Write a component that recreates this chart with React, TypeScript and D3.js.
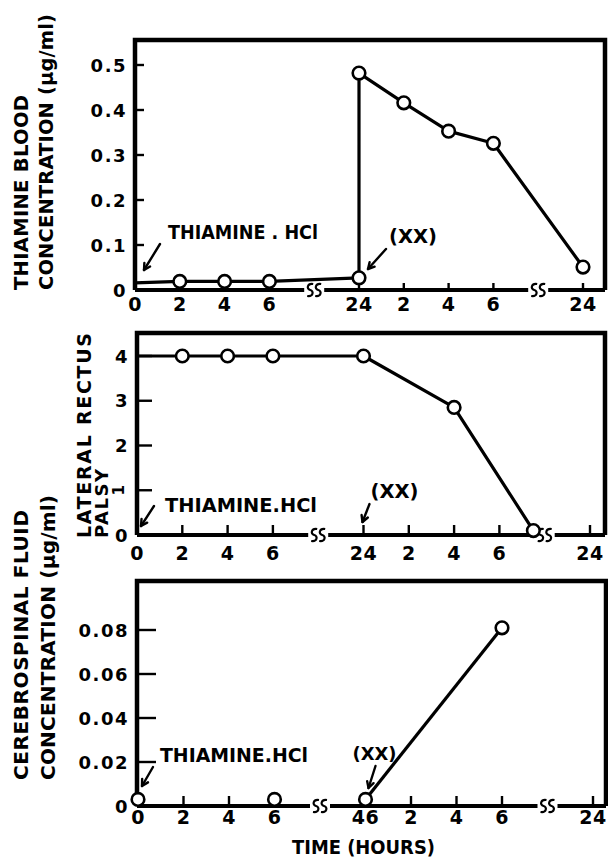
import React from 'react';
import * as d3 from 'd3';

// ---------- data ----------
const tickHours = [0, 2, 4, 6, 24, 26, 28, 30, 48];
const tickLabelsTop = ['0', '2', '4', '6', '24', '2', '4', '6', '24'];
const tickLabelsMid = ['0', '2', '4', '6', '24', '2', '4', '6', '24'];
const tickLabelsBot = ['0', '2', '4', '6', '46', '2', '4', '6', '24'];
const breakHours = [8, 32];

const bloodHours = [0, 2, 4, 6, 24, 24, 26, 28, 30, 48];
const bloodValues = [0.016, 0.019, 0.019, 0.019, 0.027, 0.482, 0.416, 0.353, 0.326, 0.051];
const bloodMarkers = [false, true, true, true, true, true, true, true, true, true];

const palsyHours = [0, 2, 4, 6, 24, 28, 31.5];
const palsyValues = [4, 4, 4, 4, 4, 2.85, 0.1];
const palsyMarkers = [false, true, true, true, true, true, true];

const csfDay1Hours = [0, 6];
const csfDay1Values = [0.003, 0.003];
const csfDay2Hours = [24, 30];
const csfDay2Values = [0.003, 0.081];

const bloodYTicks = [0, 0.1, 0.2, 0.3, 0.4, 0.5];
const bloodYLabels = ['0', '0.1', '0.2', '0.3', '0.4', '0.5'];
const palsyYTicks = [0, 1, 2, 3, 4];
const palsyYLabels = ['0', '1', '2', '3', '4'];
const csfYTicks = [0, 0.02, 0.04, 0.06, 0.08];
const csfYLabels = ['0', '0.02', '0.04', '0.06', '0.08'];

const FONT = "'DejaVu Sans', sans-serif";

function makeX(x0: number, w: number) {
  return d3
    .scaleLinear()
    .domain([0, 8, 24, 32, 48])
    .range([x0, x0 + 4 * w, x0 + 5 * w, x0 + 9 * w, x0 + 10 * w]);
}

function Arrow({ x1, y1, x2, y2 }: { x1: number; y1: number; x2: number; y2: number }) {
  const a = Math.atan2(y2 - y1, x2 - x1);
  const h = 7;
  const s = 0.5;
  const p1 = [x2 - h * Math.cos(a - s), y2 - h * Math.sin(a - s)];
  const p2 = [x2 - h * Math.cos(a + s), y2 - h * Math.sin(a + s)];
  return (
    <g stroke="#000" strokeWidth={2.4} fill="none" strokeLinecap="round" strokeLinejoin="round">
      <line x1={x1} y1={y1} x2={x2} y2={y2} />
      <polyline points={`${p1[0]},${p1[1]} ${x2},${y2} ${p2[0]},${p2[1]}`} />
    </g>
  );
}

function BreakMark({ x, y }: { x: number; y: number }) {
  const s = (cx: number) =>
    `M${cx + 3},${y - 6} C${cx - 3},${y - 7} ${cx - 4},${y - 1} ${cx},${y} C${cx + 4},${y + 1} ${cx + 3},${y + 7} ${cx - 3},${y + 6}`;
  return (
    <g stroke="#000" strokeWidth={2.2} fill="none">
      <path d={s(x - 4)} />
      <path d={s(x + 4)} />
    </g>
  );
}

type PanelProps = {
  left: number;
  right: number;
  top: number;
  axisY: number;
  x: d3.ScaleLinear<number, number>;
  y: d3.ScaleLinear<number, number>;
  yTicks: number[];
  yLabels: string[];
  xLabels: string[];
  yTickLen: number;
  xTickLen: number;
  labelDy: number;
  hideYLabel?: number;
};

function Frame(p: PanelProps) {
  const bx = breakHours.map((h) => p.x(h));
  const gap = 10;
  const segs = [
    [p.left, bx[0] - gap],
    [bx[0] + gap, bx[1] - gap],
    [bx[1] + gap, p.right],
  ];
  return (
    <g>
      <path
        d={`M${p.left},${p.axisY} L${p.left},${p.top} L${p.right},${p.top} L${p.right},${p.axisY}`}
        fill="none"
        stroke="#000"
        strokeWidth={4.5}
        strokeLinejoin="miter"
      />
      {segs.map((s, i) => (
        <line key={i} x1={s[0]} x2={s[1]} y1={p.axisY} y2={p.axisY} stroke="#000" strokeWidth={4.2} />
      ))}
      {bx.map((b, i) => (
        <BreakMark key={i} x={b} y={p.axisY} />
      ))}
      {p.yTicks.map((t, i) => (
        <g key={i}>
          {t !== 0 && (
            <line x1={p.left} x2={p.left + p.yTickLen} y1={p.y(t)} y2={p.y(t)} stroke="#000" strokeWidth={2.4} />
          )}
          {p.hideYLabel !== i && (
            <text
              x={p.left - 8}
              y={p.y(t) + 6.5}
              textAnchor="end"
              fontFamily={FONT}
              fontWeight="bold"
              fontSize={18}
              letterSpacing={1.5}
            >
              {p.yLabels[i]}
            </text>
          )}
        </g>
      ))}
      {tickHours.map((h, i) => (
        <g key={i}>
          {h !== 0 && (
            <line
              x1={p.x(h)}
              x2={p.x(h)}
              y1={p.axisY}
              y2={p.axisY - p.xTickLen}
              stroke="#000"
              strokeWidth={2.4}
            />
          )}
          <text
            x={p.x(h)}
            y={p.axisY + p.labelDy}
            textAnchor="middle"
            fontFamily={FONT}
            fontWeight="bold"
            fontSize={19}
            letterSpacing={0.5}
          >
            {p.xLabels[i]}
          </text>
        </g>
      ))}
    </g>
  );
}

function Markers({ pts }: { pts: [number, number][] }) {
  return (
    <g>
      {pts.map((d, i) => (
        <circle key={i} cx={d[0]} cy={d[1]} r={6.3} fill="#fff" stroke="#000" strokeWidth={2.6} />
      ))}
    </g>
  );
}

function VTitle({ cx, startY, len, text, fs = 20 }: { cx: number; startY: number; len: number; text: string; fs?: number }) {
  const cap = fs * 0.73;
  return (
    <text
      transform={`translate(${cx + cap / 2},${startY}) rotate(-90)`}
      fontFamily={FONT}
      fontWeight="bold"
      fontSize={fs}
      textLength={len}
      lengthAdjust="spacing"
    >
      {text}
    </text>
  );
}

function Label({ x, y, text, len, fs = 20 }: { x: number; y: number; text: string; len?: number; fs?: number }) {
  return (
    <text
      x={x}
      y={y}
      fontFamily={FONT}
      fontWeight="bold"
      fontSize={fs}
      textLength={len}
      lengthAdjust={len ? 'spacingAndGlyphs' : undefined}
    >
      {text}
    </text>
  );
}

export default function App() {
  // ---- top panel ----
  const xT = makeX(135, 44.8);
  const yT = d3.scaleLinear().domain([0, 0.5]).range([290, 65]);
  const bloodPts: [number, number][] = bloodHours.map((h, i) => [xT(h), yT(bloodValues[i])]);
  const lineGen = d3.line<[number, number]>();

  // ---- middle panel ----
  const xM = makeX(137, 45.3);
  const yM = d3.scaleLinear().domain([0, 4]).range([535, 356]);
  const palsyPts: [number, number][] = palsyHours.map((h, i) => [xM(h), yM(palsyValues[i])]);

  // ---- bottom panel ----
  const xB = makeX(138, 45.5);
  const yB = d3.scaleLinear().domain([0, 0.08]).range([806, 630]);
  const csf1: [number, number][] = csfDay1Hours.map((h, i) => [xB(h), yB(csfDay1Values[i])]);
  const csf2: [number, number][] = csfDay2Hours.map((h, i) => [xB(h), yB(csfDay2Values[i])]);

  return (
    <svg
      width={608}
      height={858}
      viewBox="0 0 608 858"
      style={{ position: 'absolute', left: 0, top: 0, background: '#fff' }}
    >
      <rect x={0} y={0} width={608} height={858} fill="#fff" />

      {/* ===== TOP ===== */}
      <VTitle cx={21} startY={290} len={195} text="THIAMINE BLOOD" fs={19.5} />
      <VTitle cx={46} startY={290} len={276} text="CONCENTRATION (μg/ml)" fs={19.5} />
      <Frame
        left={135}
        right={605}
        top={40}
        axisY={290}
        x={xT}
        y={yT}
        yTicks={bloodYTicks}
        yLabels={bloodYLabels}
        xLabels={tickLabelsTop}
        yTickLen={9}
        xTickLen={7}
        labelDy={21}
      />
      <path d={lineGen(bloodPts) || ''} fill="none" stroke="#000" strokeWidth={3.2} strokeLinejoin="round" />
      <Markers pts={bloodPts.filter((_, i) => bloodMarkers[i])} />
      <Label x={xT(0) + 33} y={yT(0) - 51} text="THIAMINE . HCl" len={150} />
      <Arrow x1={xT(0) + 25} y1={yT(0) - 46} x2={xT(0) + 9} y2={yT(0) - 20} />
      <Label x={xT(24) + 30} y={yT(0) - 47} text="(XX)" len={48} fs={19} />
      <Arrow x1={xT(24) + 27} y1={yT(0) - 41} x2={xT(24) + 9} y2={yT(0) - 21} />

      {/* ===== MIDDLE ===== */}
      <VTitle cx={84} startY={538} len={205} text="LATERAL RECTUS" fs={19} />
      <VTitle cx={101} startY={538} len={69} text="PALSY" fs={18} />
      <Frame
        left={137}
        right={605}
        top={333}
        axisY={535}
        x={xM}
        y={yM}
        yTicks={palsyYTicks}
        yLabels={palsyYLabels}
        xLabels={tickLabelsMid}
        yTickLen={15}
        xTickLen={10}
        labelDy={25}
        hideYLabel={1}
      />
      <text
        transform={`translate(${124},${yM(1)}) rotate(-90)`}
        textAnchor="middle"
        fontFamily={FONT}
        fontWeight="bold"
        fontSize={15}
      >
        1
      </text>
      <path d={lineGen(palsyPts) || ''} fill="none" stroke="#000" strokeWidth={3.2} strokeLinejoin="round" />
      <Markers pts={palsyPts.filter((_, i) => palsyMarkers[i])} />
      <Label x={xM(0) + 28} y={yM(0) - 23} text="THIAMINE.HCl" len={152} />
      <Arrow x1={xM(0) + 17} y1={yM(0) - 29} x2={xM(0) + 4} y2={yM(0) - 9} />
      <Label x={xM(24) + 7} y={yM(0) - 37} text="(XX)" len={48} fs={19} />
      <Arrow x1={xM(24) + 6} y1={yM(0) - 31} x2={xM(24) - 1} y2={yM(0) - 13} />

      {/* ===== BOTTOM ===== */}
      <VTitle cx={21} startY={780} len={270} text="CEREBROSPINAL FLUID" fs={20} />
      <VTitle cx={48} startY={780} len={285} text="CONCENTRATION (μg/ml)" fs={20} />
      <Frame
        left={137}
        right={606}
        top={581}
        axisY={806}
        x={xB}
        y={yB}
        yTicks={csfYTicks}
        yLabels={csfYLabels}
        xLabels={tickLabelsBot}
        yTickLen={19}
        xTickLen={10}
        labelDy={18}
      />
      <path d={lineGen(csf2) || ''} fill="none" stroke="#000" strokeWidth={3.2} strokeLinejoin="round" />
      <Markers pts={csf1} />
      <Markers pts={csf2} />
      <Label x={xB(0) + 22} y={yB(0) - 44} text="THIAMINE.HCl" len={148} />
      <Arrow x1={xB(0) + 15} y1={yB(0) - 39} x2={xB(0) + 4} y2={yB(0) - 20} />
      <Label x={xB(24) - 13} y={yB(0) - 46} text="(XX)" len={44} fs={18} />
      <Arrow x1={xB(24) + 10} y1={yB(0) - 40} x2={xB(24) + 3} y2={yB(0) - 18} />

      <Label x={292} y={854} text="TIME (HOURS)" len={143} fs={19} />
    </svg>
  );
}
